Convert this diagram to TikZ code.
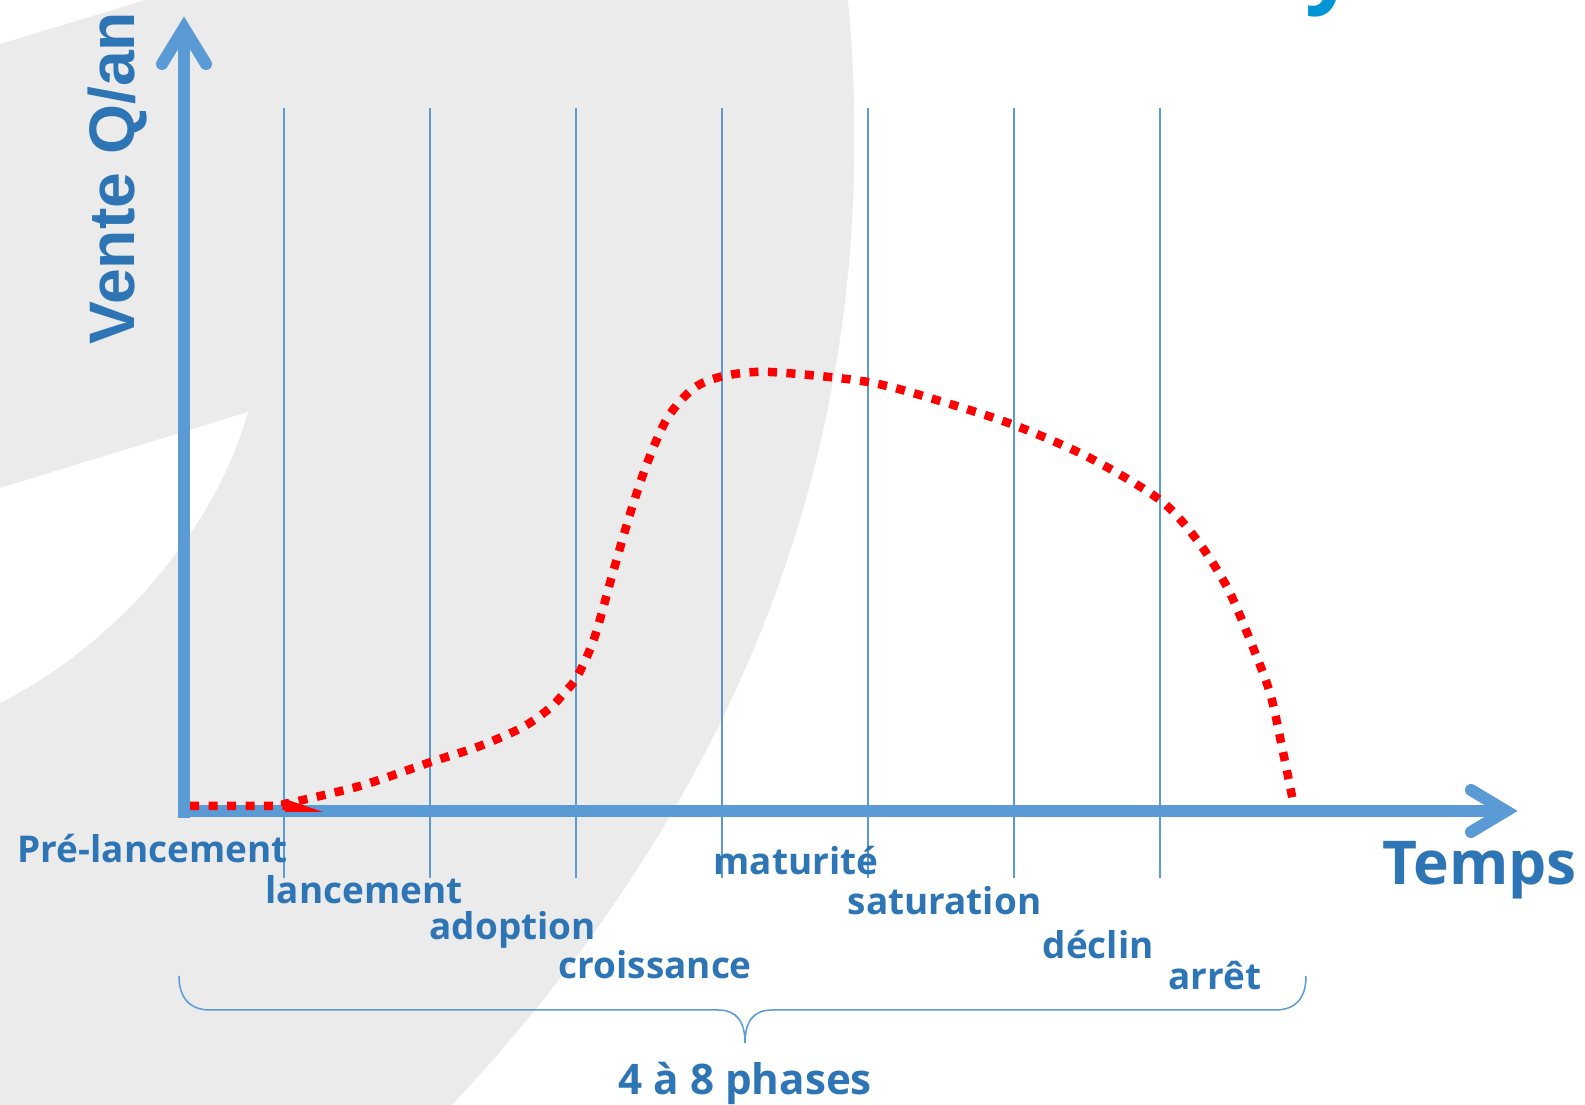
\documentclass[tikz,border=0pt]{standalone}
\usepackage{fontspec}
\setmainfont{Open Sans}
\newfontfamily\arialfont{Liberation Sans}
\definecolor{axisblue}{HTML}{5B9BD5}
\definecolor{textblue}{HTML}{2E75B6}
\definecolor{bggrey}{HTML}{EBEBEB}
\definecolor{titleblue}{HTML}{0096D6}
\begin{document}
\begin{tikzpicture}[x=0.1mm,y=-0.1mm,
  lbl/.style={text=textblue, font=\fontsize{10.5}{12}\selectfont\bfseries, anchor=base west, inner sep=0pt},
  axisline/.style={draw=axisblue, line width=1.2mm},
  gridline/.style={draw=axisblue, line width=0.15mm},
  salescurve/.style={draw=red, line width=0.85mm, dash pattern=on 0.9mm off 0.95mm}]
\fill[white] (0,0) rectangle (1585,1105);
\useasboundingbox (0,0) rectangle (1585,1105);
% background swoosh
\fill[bggrey] (0,0) -- (848,0) .. controls (875,300) and (830,700) .. (452,1105) -- (0,1105) -- cycle;
\fill[white] (0,0) -- (145,0) -- (0,44) -- cycle;
\fill[white] (0,488) -- (248,412) .. controls (215,530) and (115,645) .. (0,703) -- cycle;
% title fragment
\node[text=titleblue, font=\fontsize{25.6}{30}\selectfont\bfseries, anchor=base west, inner sep=0pt] (ttl) at (1305,-4) {y};
% axes
\draw[axisline] (184,818) -- (184,30);
\draw[axisline, line cap=round, line join=miter] (162,64) -- (184,28) -- (206,64);
\draw[axisline] (178,811) -- (1505,811);
\draw[axisline, line cap=round, line join=miter] (1471,790) -- (1506,811) -- (1471,832);
% grid
\foreach \x in {284,430,576,722,868,1014,1160} \draw[gridline] (\x,108) -- (\x,878);
% curve
\fill[red] (285,799) -- (323,812) -- (285,812) -- cycle;
\draw[salescurve] (190,806) -- (285,806) -- plot[smooth] coordinates {(285,804) (360,786) (431,762) (480,746) (523,727) (550,708) (565,692) (577,677) (594,639) (612,576) (630,514) (648,461) (668,417) (694,388) (724,376) (770,372) (868,382) (940,401) (1014,425) (1090,458) (1160,500) (1197,540) (1227,587) (1250,640) (1270,693) (1282,747) (1294,806)};
% labels
\node[lbl] (pre) at (17,863) {Pré-lancement};
\node[lbl] (lan) at (265,904) {lancement};
\node[lbl] (ado) at (429,940) {adoption};
\node[lbl] (cro) at (558,979) {croissance};
\node[lbl] (mat) at (713,875) {maturité};
\node[lbl] (sat) at (847,915) {saturation};
\node[lbl] (dec) at (1042,959) {déclin};
\node[lbl] (arr) at (1168,990) {arrêt};
\node[lbl, font=\fontsize{17.2}{20}\selectfont\bfseries] (temps) at (1382,885) {Temps};
\node[lbl, font=\fontsize{12}{14}\selectfont\bfseries] (phases) at (618,1095) {4 à 8 phases};
\node[lbl, font=\fontsize{18.3}{20}\selectfont\arialfont\bfseries, rotate=90] (vente) at (134,345) {Vente Q/an};
% brace
\draw[axisblue, line width=0.15mm] (179,976) .. controls (179,998) and (190,1010) .. (210,1010) -- (718,1010) .. controls (737,1010) and (745,1022) .. (745,1043) .. controls (745,1022) and (753,1010) .. (772,1010) -- (1275,1010) .. controls (1296,1010) and (1306,998) .. (1306,976);
\end{tikzpicture}
\end{document}
